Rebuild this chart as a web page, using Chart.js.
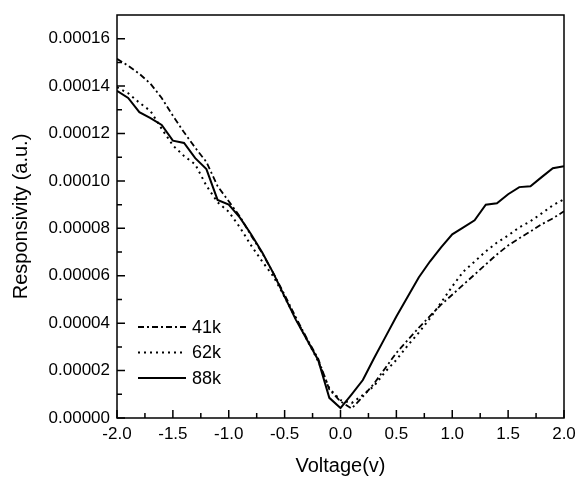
<!DOCTYPE html>
<html>
<head>
<meta charset="utf-8">
<script src="https://cdn.jsdelivr.net/npm/chart.js@4"></script>
<style>
  body { margin: 0; background: #fff; }
  #wrap { width: 579px; height: 478px; }
</style>
</head>
<body>
<div id="wrap"><canvas id="respChart" width="579" height="478"></canvas></div>
<script>
// bias voltage (V)
const volts = [-2.0,-1.9,-1.8,-1.7,-1.6,-1.5,-1.4,-1.3,-1.2,-1.1,-1.0,-0.9,-0.8,-0.7,-0.6,-0.5,-0.4,-0.3,-0.2,-0.1,
  0.0,0.1,0.2,0.3,0.4,0.5,0.6,0.7,0.8,0.9,1.0,1.1,1.2,1.3,1.4,1.5,1.6,1.7,1.8,1.9,2.0];

// responsivity (a.u.)
const resp41k = [15.15e-5,14.86e-5,14.52e-5,14.1e-5,13.5e-5,12.75e-5,12.05e-5,11.4e-5,10.8e-5,9.78e-5,9.14e-5,8.5e-5,7.7e-5,6.95e-5,6.1e-5,5.2e-5,4.25e-5,3.35e-5,2.5e-5,1.2e-5,
  0.7e-5,0.4e-5,0.9e-5,1.45e-5,2.1e-5,2.75e-5,3.28e-5,3.8e-5,4.3e-5,4.78e-5,5.2e-5,5.63e-5,6.05e-5,6.48e-5,6.9e-5,7.28e-5,7.58e-5,7.87e-5,8.17e-5,8.42e-5,8.72e-5];
const resp62k = [13.95e-5,13.7e-5,13.3e-5,12.95e-5,12.2e-5,11.5e-5,11.05e-5,10.7e-5,9.8e-5,9.1e-5,8.7e-5,8.04e-5,7.28e-5,6.6e-5,5.97e-5,5.1e-5,4.2e-5,3.3e-5,2.4e-5,1.25e-5,
  0.75e-5,0.63e-5,0.97e-5,1.35e-5,1.95e-5,2.45e-5,3.05e-5,3.6e-5,4.2e-5,4.87e-5,5.55e-5,6.18e-5,6.6e-5,7.03e-5,7.4e-5,7.7e-5,8.04e-5,8.3e-5,8.63e-5,8.97e-5,9.23e-5];
const resp88k = [13.8e-5,13.5e-5,12.9e-5,12.65e-5,12.36e-5,11.7e-5,11.6e-5,10.96e-5,10.5e-5,9.2e-5,9.0e-5,8.45e-5,7.75e-5,6.98e-5,6.1e-5,5.12e-5,4.15e-5,3.3e-5,2.45e-5,0.85e-5,
  0.42e-5,1.0e-5,1.6e-5,2.52e-5,3.4e-5,4.28e-5,5.1e-5,5.93e-5,6.6e-5,7.2e-5,7.75e-5,8.04e-5,8.34e-5,9.0e-5,9.06e-5,9.44e-5,9.74e-5,9.78e-5,10.16e-5,10.54e-5,10.62e-5];

const seriesLabels = ["41k", "62k", "88k"];

// axis ticks
const xTicks = [-2.0,-1.5,-1.0,-0.5,0.0,0.5,1.0,1.5,2.0];
const xMinor = [-1.75,-1.25,-0.75,-0.25,0.25,0.75,1.25,1.75];
const yTicks = [0,0.00002,0.00004,0.00006,0.00008,0.0001,0.00012,0.00014,0.00016];
const yMinor = [0.00001,0.00003,0.00005,0.00007,0.00009,0.00011,0.00013,0.00015];

const dashes = [[6,3,2,3],[2,4],[]];

function pts(vals){
  return volts.map((v,i) => ({x: v, y: vals[i]}));
}

const axisPlugin = {
  id: "axisFrame",
  afterDatasetsDraw(chart){
    const ctx = chart.ctx;
    const a = chart.chartArea;
    const xs = chart.scales.x, ys = chart.scales.y;
    ctx.save();
    ctx.strokeStyle = "#000";
    ctx.lineWidth = 1.5;
    ctx.setLineDash([]);
    ctx.strokeRect(a.left, a.top, a.right - a.left, a.bottom - a.top);
    ctx.beginPath();
    xTicks.forEach(v => { const p = xs.getPixelForValue(v); ctx.moveTo(p, a.bottom); ctx.lineTo(p, a.bottom - 8); });
    xMinor.forEach(v => { const p = xs.getPixelForValue(v); ctx.moveTo(p, a.bottom); ctx.lineTo(p, a.bottom - 5); });
    yTicks.forEach(v => { const p = ys.getPixelForValue(v); ctx.moveTo(a.left, p); ctx.lineTo(a.left + 8, p); });
    yMinor.forEach(v => { const p = ys.getPixelForValue(v); ctx.moveTo(a.left, p); ctx.lineTo(a.left + 5, p); });
    ctx.stroke();

    // legend inside the plot, lower left
    ctx.font = "18px 'Liberation Sans', Arial, sans-serif";
    ctx.fillStyle = "#000";
    ctx.textBaseline = "middle";
    chart.data.datasets.forEach((ds, i) => {
      const yy = 327 + i * 25.5;
      ctx.lineWidth = ds.borderWidth;
      ctx.setLineDash(ds.borderDash);
      ctx.beginPath();
      ctx.moveTo(138, yy);
      ctx.lineTo(186, yy);
      ctx.stroke();
      ctx.fillText(ds.label, 192, yy + 1);
    });
    ctx.restore();
  }
};

new Chart(document.getElementById("respChart"), {
  type: "line",
  data: {
    datasets: [
      {label: seriesLabels[0], data: pts(resp41k), borderColor: "#000", borderWidth: 1.8, borderDash: dashes[0]},
      {label: seriesLabels[1], data: pts(resp62k), borderColor: "#000", borderWidth: 2, borderDash: dashes[1]},
      {label: seriesLabels[2], data: pts(resp88k), borderColor: "#000", borderWidth: 2, borderDash: dashes[2]}
    ]
  },
  options: {
    responsive: false,
    animation: false,
    layout: {padding: {top: 15, right: 15, left: 0, bottom: 0}},
    elements: {point: {radius: 0}, line: {tension: 0}},
    plugins: {legend: {display: false}, tooltip: {enabled: false}},
    scales: {
      x: {
        type: "linear",
        min: -2, max: 2,
        afterBuildTicks: s => { s.ticks = xTicks.map(v => ({value: v})); },
        afterFit: s => { s.height = 60; s.paddingLeft = 0; s.paddingRight = 0; },
        grid: {display: true, drawOnChartArea: false, drawTicks: false},
        border: {display: false},
        ticks: {color: "#000", padding: 6, maxRotation: 0, font: {size: 17, family: "'Liberation Sans', Arial, sans-serif"},
          callback: v => v.toFixed(1)},
        title: {display: true, text: "Voltage(v)", color: "#000", padding: {top: 0, bottom: 0},
          font: {size: 20, family: "'Liberation Sans', Arial, sans-serif"}}
      },
      y: {
        type: "linear",
        min: 0, max: 0.00017,
        afterBuildTicks: s => { s.ticks = yTicks.map(v => ({value: v})); },
        afterFit: s => { s.width = 117; s.paddingTop = 0; s.paddingBottom = 0; },
        grid: {display: true, drawOnChartArea: false, drawTicks: false},
        border: {display: false},
        ticks: {color: "#000", padding: 7, font: {size: 17, family: "'Liberation Sans', Arial, sans-serif"},
          callback: v => v.toFixed(5)},
        title: {display: true, text: "Responsivity (a.u.)", color: "#000", padding: {top: 9, bottom: 0},
          font: {size: 20, family: "'Liberation Sans', Arial, sans-serif"}}
      }
    }
  },
  plugins: [axisPlugin]
});
</script>
</body>
</html>
